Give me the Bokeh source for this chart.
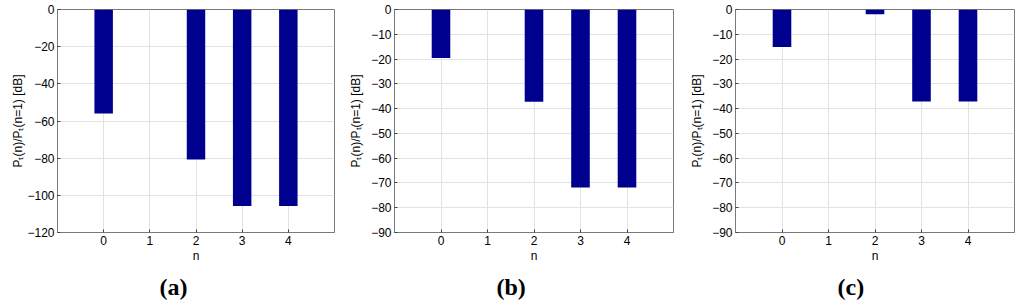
from bokeh.plotting import figure
from bokeh.layouts import row
from bokeh.models import Range1d, FixedTicker, Title
from bokeh.embed import file_html
from bokeh.resources import INLINE

# ---- data ----
n_pos = [0, 1, 2, 3, 4]
n_labels = ["0", "1", "2", "3", "4"]
vals_a = [-56.0, 0.0, -80.7, -105.8, -105.8]
vals_b = [-19.6, 0.0, -37.2, -71.8, -71.8]
vals_c = [-15.1, 0.0, -1.9, -37.1, -37.1]
yticks_a = [-120, -100, -80, -60, -40, -20, 0]
yticks_bc = [-90, -80, -70, -60, -50, -40, -30, -20, -10, 0]
captions = ["(a)", "(b)", "(c)"]
ylabel = "P\u209c(n)/P\u209c(n=1) [dB]"
xlabel = "n"

BAR = "#00008F"
AX = "#7a7a7a"
GRID = "#e2e2e2"
FONT = "Liberation Sans"


def make(vals, ymin, yticks, caption, bl, fw, br, lab_standoff):
    p = figure(frame_width=fw, frame_height=223,
               min_border_left=bl, min_border_right=br,
               min_border_top=9, min_border_bottom=20,
               x_range=Range1d(-1, 5), y_range=Range1d(ymin, 0),
               output_backend="svg", toolbar_location=None,
               background_fill_color="white", border_fill_color="white")
    p.outline_line_color = AX
    p.outline_line_width = 1
    p.vbar(x=n_pos, top=0, bottom=vals, width=0.4,
           fill_color=BAR, line_color=None)
    p.xaxis.ticker = FixedTicker(ticks=n_pos)
    p.xaxis.major_label_overrides = {i: s for i, s in zip(n_pos, n_labels)}
    p.yaxis.ticker = FixedTicker(ticks=yticks)
    for ax in (p.xaxis, p.yaxis):
        ax.axis_line_color = AX
        ax.major_tick_line_color = "#444444"
        ax.major_tick_in = 3
        ax.major_tick_out = 0
        ax.minor_tick_line_color = None
        ax.major_label_text_font = FONT
        ax.major_label_text_font_size = "12px"
        ax.major_label_text_color = "black"
        ax.axis_label_text_font = FONT
        ax.axis_label_text_font_size = "12px"
        ax.axis_label_text_font_style = "normal"
        ax.axis_label_text_color = "black"
        ax.major_label_standoff = 3
    p.xaxis.axis_label = xlabel
    p.xaxis.axis_label_standoff = 1
    p.yaxis.axis_label = ylabel
    p.yaxis.axis_label_standoff = lab_standoff
    p.grid.grid_line_color = GRID
    p.grid.grid_line_width = 1
    p.xgrid.ticker = FixedTicker(ticks=n_pos)
    p.ygrid.ticker = FixedTicker(ticks=yticks)
    cap = Title(text=caption, align="left", offset=102, standoff=12,
                text_font="Liberation Serif", text_font_style="bold",
                text_font_size="24px", text_color="black")
    p.add_layout(cap, "below")
    return p


p1 = make(vals_a, -120, yticks_a, captions[0], 57, 277, 10, -1)
p2 = make(vals_b, -90, yticks_bc, captions[1], 50, 279, 11, 5)
p3 = make(vals_c, -90, yticks_bc, captions[2], 51, 279, 8, 5)

layout = row(p1, p2, p3)
open("out.html", "w").write(file_html(layout, INLINE))
